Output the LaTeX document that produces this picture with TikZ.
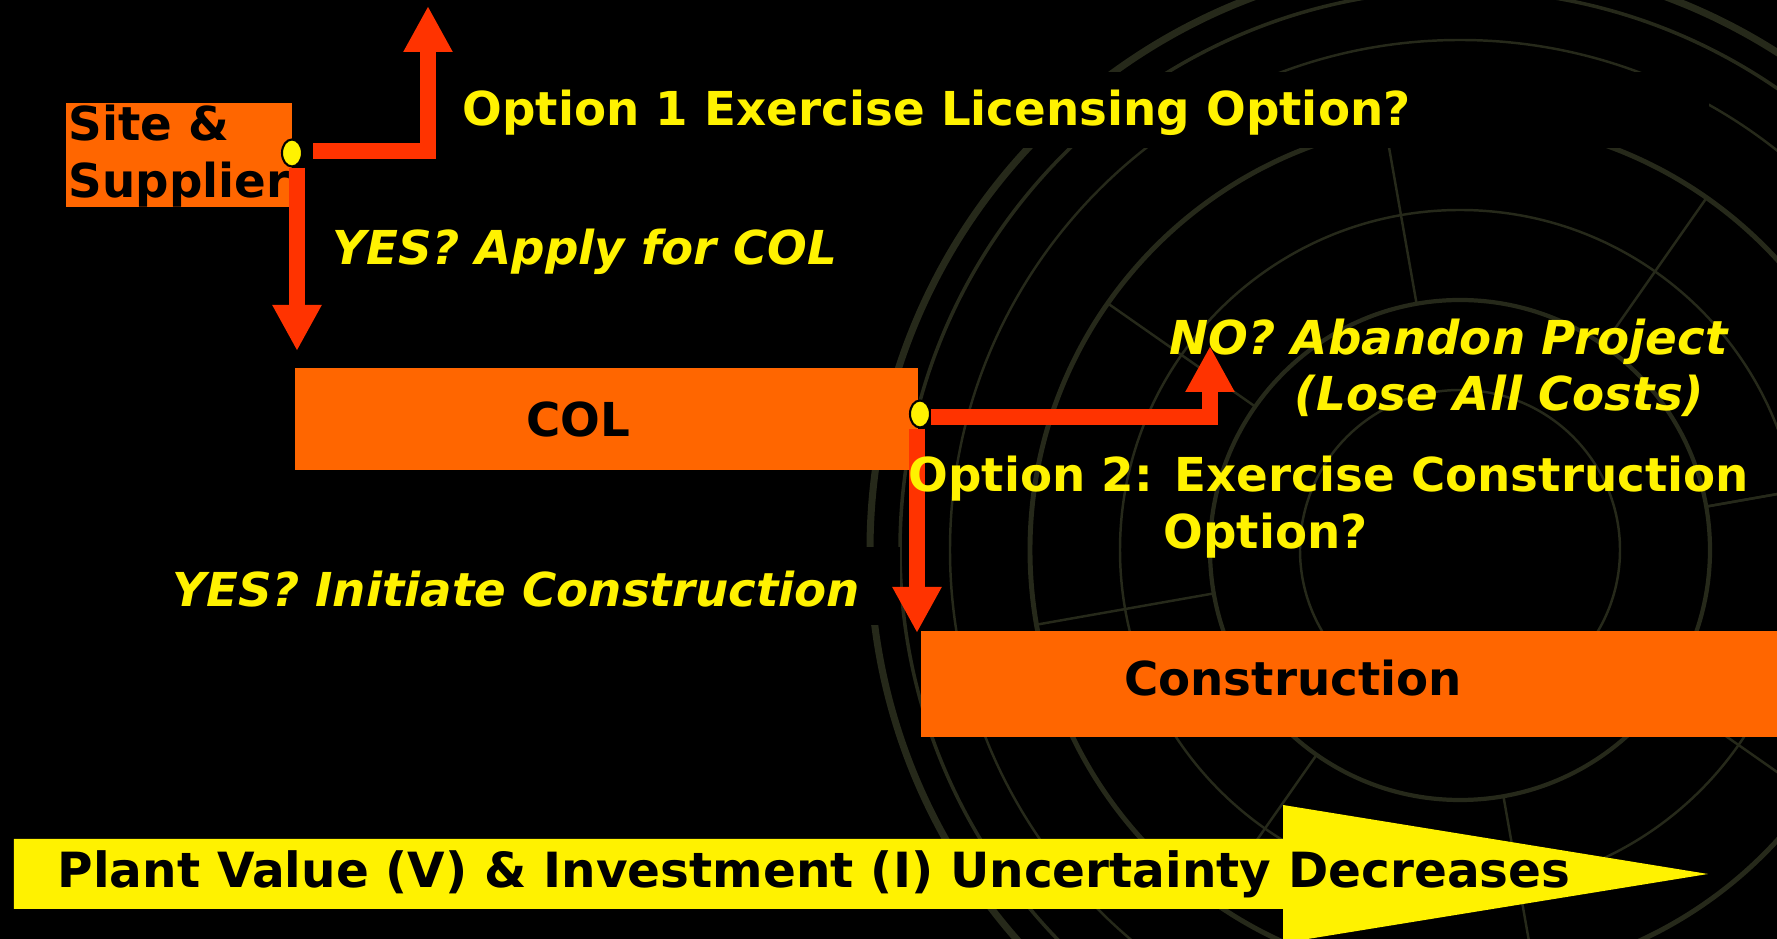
\documentclass[tikz,border=0pt]{standalone}
\usepackage{fontspec}
\setmainfont{DejaVu Sans}
\usetikzlibrary{arrows.meta,shapes.geometric}

\definecolor{boxorange}{RGB}{255,102,0}
\definecolor{flowred}{RGB}{255,51,0}
\definecolor{engrave}{RGB}{38,41,26}

\newcommand{\slidefont}{\fontsize{13.3}{16}\selectfont\bfseries}

\begin{document}
\begin{tikzpicture}[
  stage/.style={fill=boxorange, draw=none, inner sep=0pt, font=\slidefont},
  words/.style={font=\slidefont, inner sep=0pt},
  tag/.style={words, text=yellow},
  asks/.style={tag, font=\slidefont\itshape},
  flow/.style={draw=flowred, line width=0.16cm, line join=miter,
    -{Triangle[length=0.46cm, width=0.46cm]}},
  knob/.style={ellipse, fill=yellow, draw=black, line width=0.6pt,
    minimum width=0.2cm, minimum height=0.27cm, inner sep=0pt}
]
\useasboundingbox (0,0) rectangle (17.77,-9.39);
\fill[black] (0,0) rectangle (17.77,-9.39);

% faint engraved seal behind the right half
\begin{scope}
  \clip (8.4,0) rectangle (17.77,-9.39);
  \foreach \r/\w in {5.9/2.0, 5.6/1.0, 5.1/0.7, 4.3/1.4, 3.4/0.7, 2.5/1.2, 1.6/0.7}
    \draw[engrave, line width=\w pt] (14.6,-5.5) circle (\r);
  \foreach \a in {10,55,...,370}
    \draw[engrave, line width=0.7pt] (14.6,-5.5) ++(\a:2.5) -- ++(\a:1.8);
\end{scope}

% boxes
\node[stage, minimum width=2.26cm, minimum height=1.04cm] (site) at (1.79,-1.55) {};
\node[words, anchor=west, align=left] (sitetxt) at (0.68,-1.56) {Site \&\\Supplier};
\node[stage, minimum width=6.23cm, minimum height=1.02cm] (col) at (6.065,-4.19) {};
\node[words] (coltxt) at (5.78,-4.19) {COL};
\node[stage, minimum width=8.56cm, minimum height=1.06cm] (build) at (13.49,-6.84) {};
\node[words] (buildtxt) at (12.93,-6.78) {Construction};

% labels
\fill[black] (4.53,-0.72) rectangle (17.09,-1.48);
\node[tag, anchor=west] (opt1) at (4.62,-1.13) {Option 1 Exercise Licensing Option?};
\node[asks, anchor=west] (yescol) at (3.32,-2.52) {YES? Apply for COL};
\node[asks, align=right, anchor=east] (noab) at (17.28,-3.68)
  {NO? Abandon Project\\(Lose All Costs)\hspace*{0.23cm}};
\fill[black] (1.6,-5.47) rectangle (9.0,-6.25);
\node[asks, anchor=west] (yesbuild) at (1.72,-5.89) {YES? Initiate Construction};

% decision points
\node[knob] (k1) at (2.92,-1.53) {};
\node[knob] (k2) at (9.20,-4.14) {};
\coordinate (lic) at (4.28,-0.06);
\coordinate (apply) at (2.97,-3.51);
\coordinate (quit) at (12.10,-3.46);
\coordinate (go) at (9.17,-6.33);

\draw[flow] ([xshift=0.1cm, yshift=0.02cm]k1.east) -| (lic);
\draw[flow] (k1.south -| apply) -- (apply);
\draw[flow] ([yshift=-0.03cm]k2.east) -| (quit);
\draw[flow] (k2.south -| go) -- (go);

% sits on top of the down arrow
\node[tag, align=center, anchor=west] (opt2) at (9.08,-5.07)
  {Option 2: Exercise Construction\\Option?\hspace*{1.26cm}};

% uncertainty arrow
\fill[yellow] (0.14,-8.39) -- (12.83,-8.39) -- (12.83,-8.05) -- (17.08,-8.74)
  -- (12.83,-9.43) -- (12.83,-9.09) -- (0.14,-9.09) -- cycle;
\node[words, font=\fontsize{13.8}{16}\selectfont\bfseries, anchor=west] (trend)
  at (0.57,-8.74) {Plant Value (V) \& Investment (I) Uncertainty Decreases};
\end{tikzpicture}
\end{document}
